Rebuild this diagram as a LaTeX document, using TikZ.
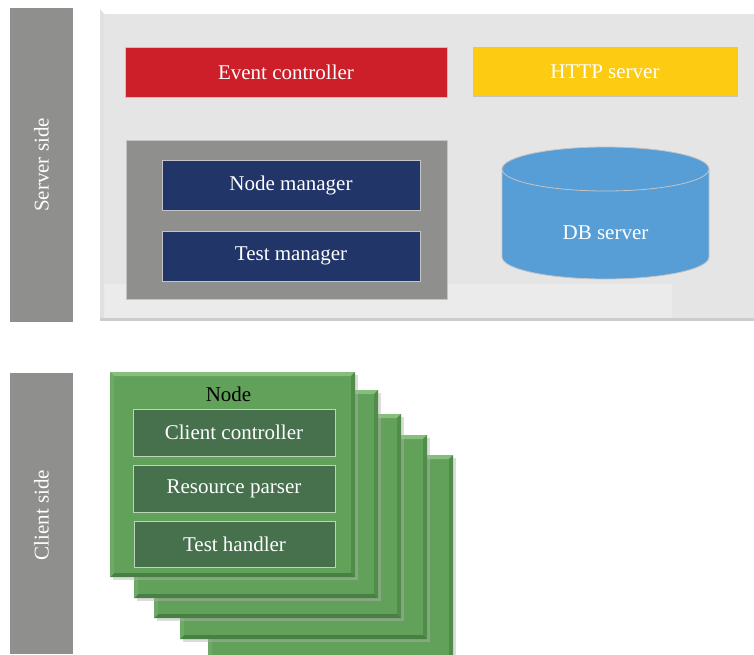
\documentclass[tikz,border=0pt]{standalone}
\usepackage{fontspec}
\setmainfont{Liberation Serif}
\definecolor{sidegray}{HTML}{8F8F8D}
\definecolor{panelgray}{HTML}{E5E5E5}
\definecolor{panellight}{HTML}{EBEBEB}
\definecolor{evred}{HTML}{CC1F29}
\definecolor{httpyellow}{HTML}{FCCB12}
\definecolor{mgrnavy}{HTML}{213569}
\definecolor{dbblue}{HTML}{579ED7}
\definecolor{edgegray}{HTML}{C4C4C4}
\definecolor{cardgreen}{HTML}{62A15A}
\definecolor{cardlight}{HTML}{86BE7E}
\definecolor{carddark}{HTML}{508D49}
\definecolor{innergreen}{HTML}{46714C}
\definecolor{inneredge}{HTML}{BCD4BC}
\begin{document}
\begin{tikzpicture}[x=1pt,y=-1pt,
  every node/.style={font=\fontsize{21}{25}\selectfont, inner sep=0pt},
  sidebar/.style={fill=sidegray, minimum width=63pt, text=white},
  flatbox/.style={draw=edgegray, line width=0.8pt, text=white},
  innerbox/.style={draw=inneredge, line width=1pt, fill=innergreen, text=white,
    minimum width=202pt, minimum height=47pt}]
\useasboundingbox (0,0) rectangle (754,654);

% side labels
\node[sidebar, minimum height=314pt] (srv) at (41.5,165) {};
\node[rotate=90, text=white] (srvtxt) at (41.5,165) {Server side};
\node[sidebar, minimum height=281pt] (cli) at (41.5,513.5) {};
\node[rotate=90, text=white] (clitxt) at (41.5,515) {Client side};

% server panel with a soft shadow edge
\fill[black!20] (100,16) rectangle (754,321);
\fill[panelgray] (100,14) rectangle (754,318);
\fill[panellight] (100,284) rectangle (672,318);
\fill[white!88!black] (100,9) -- (104,14) -- (104,318) -- (100,318) -- cycle;

% server components
\node[flatbox, fill=evred, minimum width=322pt, minimum height=50pt] (ev) at (286,72) {Event controller};
\node[flatbox, fill=httpyellow, minimum width=264pt, minimum height=49pt] (http) at (605,71.5) {HTTP server};
\node[flatbox, fill=sidegray, minimum width=321pt, minimum height=159pt] (mgr) at (286.5,219.5) {};
\node[flatbox, fill=mgrnavy, minimum width=258pt, minimum height=50pt] (nm) at (291,185) {Node manager};
\node[flatbox, fill=mgrnavy, minimum width=258pt, minimum height=50pt] (tm) at (291,256) {Test manager};

% database cylinder: body, then the top face
\filldraw[fill=dbblue, draw=edgegray, line width=0.8pt]
  (502,169) -- (502,257) arc[start angle=180, end angle=0, x radius=103.5, y radius=22]
  -- (709,169) -- cycle;
\filldraw[fill=dbblue, draw=edgegray, line width=0.8pt]
  (605.5,169) ellipse[x radius=103.5, y radius=22];
\node[text=white] (db) at (605.5,233) {DB server};

% stacked client nodes, back to front
\newcommand\greencard[4]{%
  \fill[black!30, opacity=0.45] (#1+3,#2+3) rectangle (#3+3,#4+3);
  \fill[cardgreen] (#1,#2) rectangle (#3,#4);
  \fill[cardlight] (#1,#2) -- (#3,#2) -- (#3-4,#2+4) -- (#1+4,#2+4) -- cycle;
  \fill[carddark] (#3,#2) -- (#3,#4) -- (#3-4,#4-4) -- (#3-4,#2+4) -- cycle;
  \fill[carddark!90!black] (#1,#4) -- (#3,#4) -- (#3-4,#4-4) -- (#1+4,#4-4) -- cycle;
  \fill[cardgreen!92!white] (#1,#2) -- (#1+4,#2+4) -- (#1+4,#4-4) -- (#1,#4) -- cycle;
}
\greencard{208}{455}{453}{660}
\greencard{180}{435}{427}{639}
\greencard{154}{414}{401}{618}
\greencard{134}{390}{378}{598}
\greencard{110}{372}{355}{577}

\node (nodelbl) at (228.5,394) {Node};
\node[innerbox] (cc) at (234,432.5) {Client controller};
\node[innerbox] (rp) at (234,488.5) {Resource parser};
\node[innerbox, minimum width=201pt, minimum height=46pt] (th) at (234.5,544) {Test handler};
\end{tikzpicture}
\end{document}
